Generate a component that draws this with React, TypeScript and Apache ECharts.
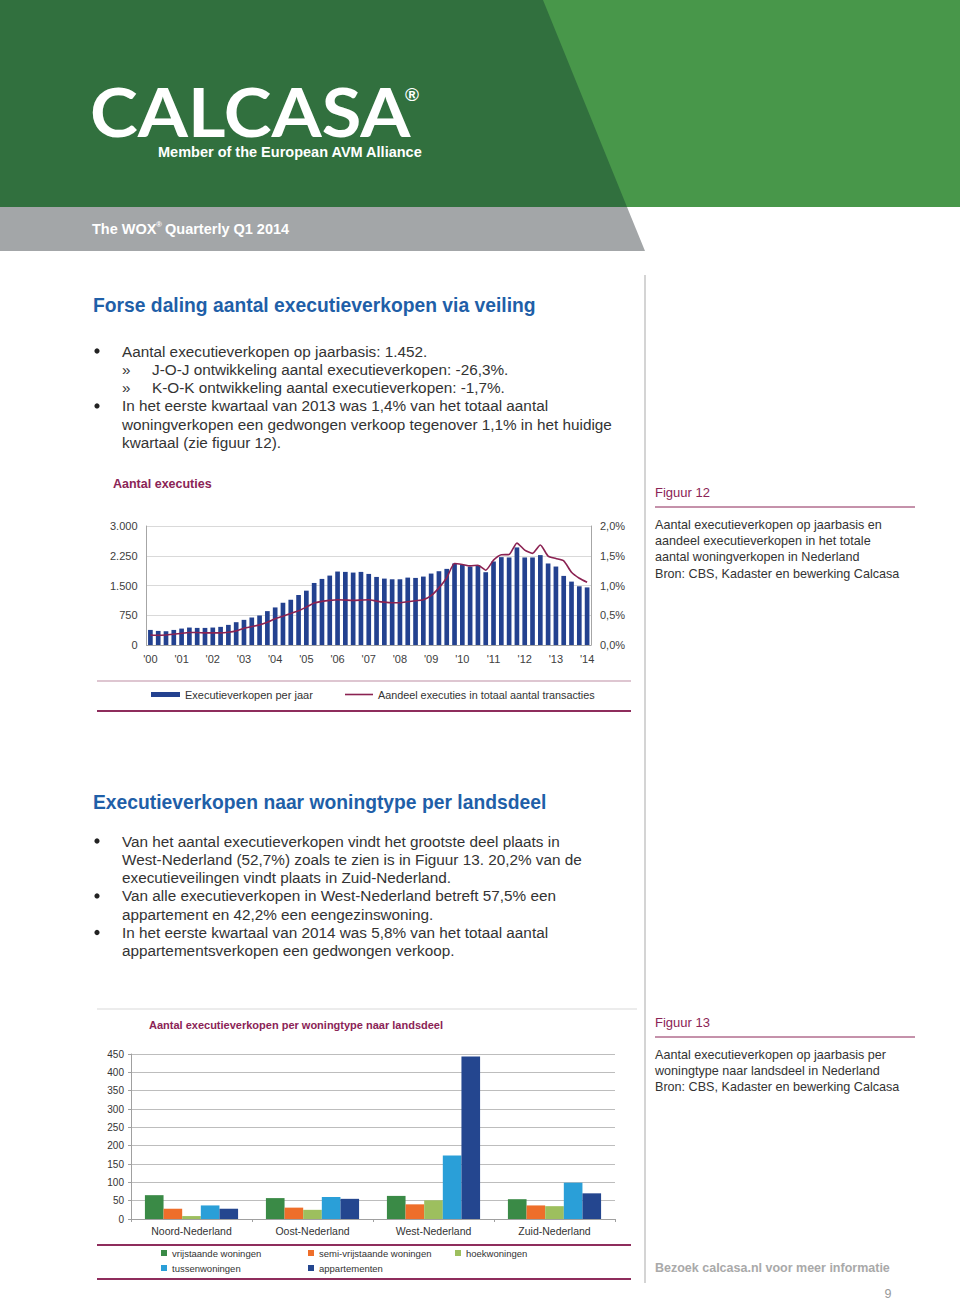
import React, { useEffect, useRef } from "react";
import * as echarts from "echarts";

// ---------- DATA ----------
const quarters = [
  "'00 K1", "'00 K2", "'00 K3", "'00 K4",
  "'01 K1", "'01 K2", "'01 K3", "'01 K4",
  "'02 K1", "'02 K2", "'02 K3", "'02 K4",
  "'03 K1", "'03 K2", "'03 K3", "'03 K4",
  "'04 K1", "'04 K2", "'04 K3", "'04 K4",
  "'05 K1", "'05 K2", "'05 K3", "'05 K4",
  "'06 K1", "'06 K2", "'06 K3", "'06 K4",
  "'07 K1", "'07 K2", "'07 K3", "'07 K4",
  "'08 K1", "'08 K2", "'08 K3", "'08 K4",
  "'09 K1", "'09 K2", "'09 K3", "'09 K4",
  "'10 K1", "'10 K2", "'10 K3", "'10 K4",
  "'11 K1", "'11 K2", "'11 K3", "'11 K4",
  "'12 K1", "'12 K2", "'12 K3", "'12 K4",
  "'13 K1", "'13 K2", "'13 K3", "'13 K4",
  "'14 K1",
];

const executieverkopen = [
  380, 355, 347, 380, 414, 440, 431, 431, 440, 457, 507, 575,
  634, 693, 744, 854, 947, 1065, 1141, 1260, 1370, 1564, 1666, 1750,
  1852, 1843, 1826, 1843, 1792, 1716, 1674, 1657, 1657, 1699, 1691, 1725,
  1801, 1860, 1919, 2055, 2021, 1978, 2012, 1835, 2105, 2215, 2207, 2460,
  2207, 2207, 2266, 2055, 1978, 1742, 1598, 1480, 1452,
];

const aandeelExecuties = [
  0.169, 0.163, 0.169, 0.18, 0.197, 0.209, 0.209, 0.203, 0.203, 0.203, 0.214, 0.237,
  0.282, 0.31, 0.338, 0.383, 0.44, 0.485, 0.53, 0.575, 0.637, 0.705, 0.733, 0.75,
  0.761, 0.755, 0.75, 0.755, 0.761, 0.738, 0.72, 0.71, 0.71, 0.727, 0.744, 0.761,
  0.83, 0.96, 1.13, 1.37, 1.353, 1.33, 1.34, 1.257, 1.426, 1.516, 1.522, 1.713,
  1.595, 1.54, 1.68, 1.494, 1.454, 1.415, 1.223, 1.122, 1.054,
];

const regions = ["Noord-Nederland", "Oost-Nederland", "West-Nederland", "Zuid-Nederland"];
const vrijstaande = [65, 57, 63, 54];
const semiVrijstaande = [28, 31, 40, 37];
const hoekwoningen = [8, 25, 51, 35];
const tussenwoningen = [37, 60, 173, 99];
const appartementen = [28, 55, 443, 70];

const woningtypeNames = [
  "vrijstaande woningen",
  "semi-vrijstaande woningen",
  "hoekwoningen",
  "tussenwoningen",
  "appartementen",
];
const woningtypeColors = ["#3a8a46", "#ee6e2a", "#9dbf5e", "#2a9fd8", "#24468f"];

const bullets1 = [
  { kind: "dot", text: "Aantal executieverkopen op jaarbasis: 1.452." },
  { kind: "sub", text: "J-O-J ontwikkeling aantal executieverkopen: -26,3%." },
  { kind: "sub", text: "K-O-K ontwikkeling aantal executieverkopen: -1,7%." },
  { kind: "dot", text: "In het eerste kwartaal van 2013 was 1,4% van het totaal aantal" },
  { kind: "cont", text: "woningverkopen een gedwongen verkoop tegenover 1,1% in het huidige" },
  { kind: "cont", text: "kwartaal (zie figuur 12)." },
];

const bullets2 = [
  { kind: "dot", text: "Van het aantal executieverkopen vindt het grootste deel plaats in" },
  { kind: "cont", text: "West-Nederland (52,7%) zoals te zien is in Figuur 13. 20,2% van de" },
  { kind: "cont", text: "executieveilingen vindt plaats in Zuid-Nederland." },
  { kind: "dot", text: "Van alle executieverkopen in West-Nederland betreft 57,5% een" },
  { kind: "cont", text: "appartement en 42,2% een eengezinswoning." },
  { kind: "dot", text: "In het eerste kwartaal van 2014 was 5,8% van het totaal aantal" },
  { kind: "cont", text: "appartementsverkopen een gedwongen verkoop." },
];

const fig12Lines = [
  "Aantal executieverkopen op jaarbasis en",
  "aandeel executieverkopen in het totale",
  "aantal woningverkopen in Nederland",
  "Bron: CBS, Kadaster en bewerking Calcasa",
];
const fig13Lines = [
  "Aantal executieverkopen op jaarbasis per",
  "woningtype naar landsdeel in Nederland",
  "Bron: CBS, Kadaster en bewerking Calcasa",
];

// ---------- STYLE ----------
const FF = '"Liberation Sans", Arial, Helvetica, sans-serif';
const TEXT = "#333333";
const MAROON = "#8b2456";
const BLUE = "#1f5fa8";
const BODY = 15.3;

const font = (size: number, bold = false, family = FF) =>
  `${bold ? "bold " : ""}${size}px ${family}`;

const txt = (x: number, y: number, text: string, f: string, fill = TEXT, align = "left", extra: any = {}) => ({
  type: "text",
  x,
  y,
  silent: true,
  ...extra,
  style: { text, font: f, fill, align, verticalAlign: "middle" },
});

const hline = (x1: number, x2: number, y: number, stroke: string, lineWidth = 1) => ({
  type: "line",
  silent: true,
  shape: { x1, y1: y, x2, y2: y },
  style: { stroke, lineWidth },
});

const fmtThousands = (v: number) =>
  v >= 1000 ? `${Math.floor(v / 1000)}.${String(v % 1000).padStart(3, "0")}` : String(v);

function bulletGraphics(list: { kind: string; text: string }[], y0: number, step: number) {
  const out: any[] = [];
  list.forEach((b, i) => {
    const y = y0 + i * step;
    if (b.kind === "dot") {
      out.push({ type: "circle", silent: true, shape: { cx: 97, cy: y, r: 2.6 }, style: { fill: "#222" } });
      out.push(txt(122, y, b.text, font(BODY)));
    } else if (b.kind === "sub") {
      out.push(txt(122, y, "»", font(BODY)));
      out.push(txt(152, y, b.text, font(BODY)));
    } else {
      out.push(txt(122, y, b.text, font(BODY)));
    }
  });
  return out;
}

export default function App() {
  const ref = useRef<HTMLDivElement>(null);

  useEffect(() => {
    if (!ref.current) return;
    const chart = echarts.init(ref.current, undefined, { renderer: "svg" });

    const graphics: any[] = [
      // header
      { type: "rect", silent: true, shape: { x: 0, y: 0, width: 960, height: 207 }, style: { fill: "#48974a" } },
      {
        type: "polygon",
        silent: true,
        shape: { points: [[0, 0], [543, 0], [627, 207], [0, 207]] },
        style: { fill: "#31703e" },
      },
      {
        type: "polygon",
        silent: true,
        shape: { points: [[0, 207], [627, 207], [645, 251], [0, 251]] },
        style: { fill: "#a3a6a8" },
      },
      txt(90, 112, "CALCASA", `bold 66px Lato, "Open Sans", ${FF}`, "#ffffff", "left", { scaleX: 1.095 }),
      txt(405, 94, "®", font(19, true), "#ffffff"),
      txt(158, 152, "Member of the European AVM Alliance", font(14.5, true), "#ffffff"),
      txt(92, 229, "The WOX", font(14.5, true), "#ffffff"),
      txt(156, 224, "®", font(8, true), "#ffffff"),
      txt(165, 229, "Quarterly Q1 2014", font(14.5, true), "#ffffff"),

      // vertical separator
      {
        type: "line",
        silent: true,
        shape: { x1: 645, y1: 275, x2: 645, y2: 1283 },
        style: { stroke: "#d4d4d4", lineWidth: 2 },
      },

      // section 1
      txt(93, 305, "Forse daling aantal executieverkopen via veiling", font(19.3, true), BLUE),
      ...bulletGraphics(bullets1, 351, 18.3),
      txt(113, 484, "Aantal executies", font(12.5, true), MAROON),
      txt(655, 492, "Figuur 12", font(13), MAROON),
      hline(655, 915, 507, MAROON, 1),
      ...fig12Lines.map((l, i) => txt(655, 525 + i * 16.2, l, font(12.6))),
      hline(97, 631, 681, "#d3b3c2", 1.5),
      hline(97, 631, 711, "#8e2d5c", 2),

      // section 2
      txt(93, 802, "Executieverkopen naar woningtype per landsdeel", font(19.3, true), BLUE),
      ...bulletGraphics(bullets2, 841, 18.3),
      hline(97, 637, 1009, "#d9d9d9", 1),
      txt(149, 1025, "Aantal executieverkopen per woningtype naar landsdeel", font(11, true), MAROON),
      txt(655, 1022, "Figuur 13", font(13), MAROON),
      hline(655, 915, 1037, MAROON, 1),
      ...fig13Lines.map((l, i) => txt(655, 1055 + i * 16.2, l, font(12.6))),
      hline(97, 631, 1245, "#8e2d5c", 2),
      hline(97, 631, 1279, "#8e2d5c", 2),

      // footer
      txt(655, 1268, "Bezoek calcasa.nl voor meer informatie", font(12.5, true), "#a9a9a9"),
      txt(888, 1294, "9", font(12.5), "#999999", "center"),
    ];

    const legendCommon = {
      orient: "horizontal",
      selectedMode: false,
      padding: 0,
      textStyle: { fontFamily: FF, color: TEXT },
    };

    const legend2Pos = [
      [161, 1248],
      [308, 1248],
      [455, 1248],
      [161, 1263],
      [308, 1263],
    ];

    const option: any = {
      animation: false,
      backgroundColor: "#ffffff",
      textStyle: { fontFamily: FF },
      graphic: graphics,
      grid: [
        { left: 146.5, top: 526, width: 444.5, height: 119, containLabel: false },
        { left: 131, top: 1054, width: 484, height: 165, containLabel: false },
      ],
      legend: [
        {
          ...legendCommon,
          left: 151,
          top: 689,
          itemWidth: 29,
          itemHeight: 5,
          data: [{ name: "Executieverkopen per jaar", icon: "rect" }],
          textStyle: { ...legendCommon.textStyle, fontSize: 11 },
        },
        {
          ...legendCommon,
          left: 345,
          top: 689,
          itemWidth: 28,
          itemHeight: 1.6,
          data: [{ name: "Aandeel executies in totaal aantal transacties", icon: "rect" }],
          textStyle: { ...legendCommon.textStyle, fontSize: 10.8 },
        },
        ...woningtypeNames.map((n, i) => ({
          ...legendCommon,
          left: legend2Pos[i][0],
          top: legend2Pos[i][1],
          itemWidth: 6,
          itemHeight: 6,
          data: [{ name: n, icon: "rect" }],
          textStyle: { ...legendCommon.textStyle, fontSize: 9.5 },
        })),
      ],
      xAxis: [
        {
          type: "category",
          gridIndex: 0,
          data: quarters,
          boundaryGap: true,
          axisLine: { show: true, lineStyle: { color: "#a6a6a6" } },
          axisTick: { show: false },
          axisLabel: {
            interval: 3,
            margin: 8,
            fontSize: 11,
            color: "#404040",
            formatter: (v: string) => v.split(" ")[0],
          },
          splitLine: { show: false },
        },
        {
          type: "category",
          gridIndex: 1,
          data: regions,
          boundaryGap: true,
          axisLine: { show: true, lineStyle: { color: "#a0a0a0" } },
          axisTick: { show: true, length: 3, lineStyle: { color: "#a0a0a0" } },
          axisLabel: { margin: 6, fontSize: 10.5, color: TEXT },
        },
      ],
      yAxis: [
        {
          type: "value",
          gridIndex: 0,
          position: "left",
          min: 0,
          max: 3000,
          interval: 750,
          axisLine: { show: true, lineStyle: { color: "#a6a6a6" } },
          axisTick: { show: false },
          axisLabel: { margin: 9, fontSize: 11, color: "#404040", formatter: fmtThousands },
          splitLine: { show: true, lineStyle: { color: "#d9d9d9" } },
        },
        {
          type: "value",
          gridIndex: 0,
          position: "right",
          min: 0,
          max: 2,
          interval: 0.5,
          axisLine: { show: true, lineStyle: { color: "#a6a6a6" } },
          axisTick: { show: false },
          axisLabel: {
            margin: 9,
            fontSize: 11,
            color: "#404040",
            formatter: (v: number) => `${v.toFixed(1).replace(".", ",")}%`,
          },
          splitLine: { show: false },
        },
        {
          type: "value",
          gridIndex: 1,
          min: 0,
          max: 450,
          interval: 50,
          axisLine: { show: true, lineStyle: { color: "#a0a0a0" } },
          axisTick: { show: true, length: 3, lineStyle: { color: "#a0a0a0" } },
          axisLabel: { margin: 7, fontSize: 10, color: TEXT },
          splitLine: { show: true, lineStyle: { color: "#bdbdbd" } },
        },
      ],
      series: [
        {
          name: "Executieverkopen per jaar",
          type: "bar",
          xAxisIndex: 0,
          yAxisIndex: 0,
          data: executieverkopen,
          barWidth: "60%",
          itemStyle: { color: "#23418f" },
        },
        {
          name: "Aandeel executies in totaal aantal transacties",
          type: "line",
          xAxisIndex: 0,
          yAxisIndex: 1,
          data: aandeelExecuties,
          symbol: "none",
          smooth: 0.2,
          lineStyle: { color: "#8b2252", width: 1.6 },
          itemStyle: { color: "#8b2252" },
        },
        ...[vrijstaande, semiVrijstaande, hoekwoningen, tussenwoningen, appartementen].map((d, i) => ({
          name: woningtypeNames[i],
          type: "bar",
          xAxisIndex: 1,
          yAxisIndex: 2,
          data: d,
          barGap: "0%",
          barCategoryGap: "23%",
          itemStyle: { color: woningtypeColors[i] },
        })),
      ],
    };

    chart.setOption(option);
    return () => chart.dispose();
  }, []);

  return (
    <div
      ref={ref}
      style={{ position: "absolute", left: 0, top: 0, width: 960, height: 1301, background: "#ffffff" }}
    />
  );
}
